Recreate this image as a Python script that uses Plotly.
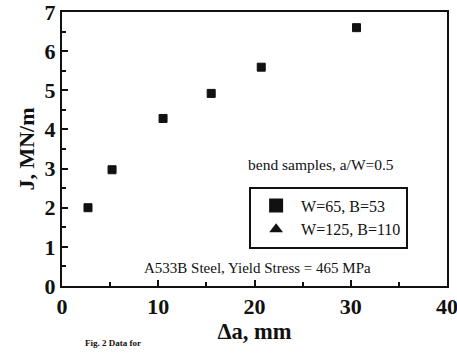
import plotly.graph_objects as go

# Data
da_w65 = [2.7, 5.2, 10.5, 15.5, 20.7, 30.6]
j_w65 = [2.0, 2.97, 4.28, 4.92, 5.59, 6.6]
da_w125 = []
j_w125 = []

FONT = "Liberation Serif"
INK = "#111111"

fig = go.Figure()
fig.add_trace(go.Scatter(x=da_w65, y=j_w65, mode="markers", name="W=65, B=53",
                         marker=dict(symbol="square", size=8, color=INK,
                                     line=dict(color=INK, width=1))))
fig.add_trace(go.Scatter(x=da_w125 or [None], y=j_w125 or [None], mode="markers",
                         name="W=125, B=110",
                         marker=dict(symbol="triangle-up", size=8, color=INK)))

axis_common = dict(showline=True, linecolor=INK, linewidth=2, mirror=True,
                   ticks="inside", ticklen=6, tickwidth=2, tickcolor=INK,
                   showgrid=False, zeroline=False, automargin=False,
                   ticklabeloverflow="allow",
                   tickfont=dict(family=FONT, size=22, color=INK, weight="bold"))

fig.update_xaxes(range=[0, 40], dtick=10, **axis_common,
                 minor=dict(dtick=5, ticks="inside", ticklen=4, tickwidth=2, tickcolor=INK),
                 title=dict(text="Δa, mm", font=dict(family=FONT, size=22.5, color=INK, weight="bold"),
                            standoff=2))
fig.update_yaxes(range=[0, 7], dtick=1, **axis_common,
                 minor=dict(dtick=0.5, ticks="inside", ticklen=4, tickwidth=2, tickcolor=INK),
                 title=dict(text="J, MN/m", font=dict(family=FONT, size=22, color=INK, weight="bold"),
                            standoff=4))

fig.add_annotation(x=19.1, y=3.1, xanchor="left", yanchor="middle", showarrow=False,
                   text="bend samples, a/W=0.5",
                   font=dict(family=FONT, size=15.5, color=INK))
fig.add_annotation(x=8.3, y=0.46, xanchor="left", yanchor="middle", showarrow=False,
                   text="A533B Steel, Yield Stress = 465 MPa",
                   font=dict(family=FONT, size=15, color=INK))
fig.add_annotation(x=0.055, y=-0.235, xref="paper", yref="paper", xanchor="left", yanchor="bottom",
                   showarrow=False, text="Fig. 2 Data for",
                   font=dict(family=FONT, size=9, color=INK, weight="bold"))

fig.update_layout(
    width=457, height=356,
    margin=dict(l=62, r=10, t=12, b=70),
    paper_bgcolor="white", plot_bgcolor="white",
    showlegend=True,
    legend=dict(x=0.486, y=0.363, xanchor="left", yanchor="top",
                bordercolor=INK, borderwidth=2, bgcolor="white",
                font=dict(family=FONT, size=16, color=INK),
                tracegroupgap=0, itemsizing="constant", itemwidth=40),
)

fig.write_html("out.html")
